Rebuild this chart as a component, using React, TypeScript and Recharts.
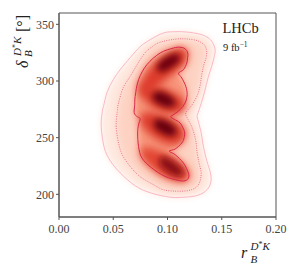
import React from 'react';
import { ScatterChart, Scatter, XAxis, YAxis, ReferenceArea, Customized } from 'recharts';

const xTicks = [0, 0.05, 0.1, 0.15, 0.2];
const yTicks = [200, 250, 300, 350];

// contour lines: [r_B, delta_B]
const outerContour: [number, number][] = [
  [0.0389, 259.9], [0.0399, 272.9], [0.041, 277.6], [0.0445, 290.6], [0.05, 301.1], [0.0564, 310.0],
  [0.0656, 320.6], [0.0748, 330.3], [0.084, 336.4], [0.0963, 342.4], [0.107, 343.5], [0.1178, 343.2],
  [0.13, 341.3], [0.1374, 338.2], [0.1416, 333.8], [0.1439, 327.6], [0.1429, 320.6], [0.1406, 312.6],
  [0.1374, 302.9], [0.1342, 290.6], [0.131, 280.0], [0.1282, 272.0], [0.1273, 268.5], [0.1287, 263.2],
  [0.131, 254.4], [0.1333, 241.2], [0.1365, 228.8], [0.1395, 219.1], [0.14, 211.1], [0.1365, 204.1],
  [0.1282, 199.2], [0.1162, 197.5], [0.1024, 197.5], [0.084, 201.4], [0.0702, 207.6], [0.0564, 218.9],
  [0.0472, 229.7], [0.0417, 241.2],
];

const middleContour: [number, number][] = [
  [0.0527, 259.9], [0.0537, 272.9], [0.0549, 280.6], [0.0592, 294.1], [0.0656, 304.1], [0.0779, 323.2],
  [0.0859, 330.3], [0.0932, 334.2], [0.107, 336.9], [0.1178, 337.1], [0.1273, 335.6], [0.1337, 332.0],
  [0.136, 326.7], [0.1356, 320.6], [0.1333, 313.5], [0.1314, 304.7], [0.13, 295.9], [0.1273, 287.0],
  [0.1227, 279.1], [0.1181, 273.8], [0.1167, 270.7], [0.119, 265.9], [0.1227, 258.8], [0.1259, 248.2],
  [0.1272, 237.6], [0.129, 227.9], [0.131, 219.1], [0.1298, 211.1], [0.126, 205.8], [0.1181, 203.2],
  [0.107, 202.8], [0.096, 204.1], [0.0871, 208.5], [0.0748, 215.6], [0.0656, 224.6], [0.0583, 235.0],
  [0.0549, 245.3],
];

const innerContour: [number, number][] = [
  [0.0693, 272.0], [0.0698, 279.1], [0.0702, 286.4], [0.0733, 301.1], [0.081, 314.4], [0.0932, 324.7],
  [0.1055, 329.1], [0.1116, 329.8], [0.1162, 328.5], [0.1187, 324.7], [0.1185, 320.6], [0.1178, 315.9],
  [0.1147, 310.0], [0.1101, 306.9], [0.1132, 302.6], [0.1169, 295.2], [0.1181, 287.9], [0.1162, 280.6],
  [0.1116, 274.7], [0.1061, 270.7], [0.1029, 268.5], [0.1061, 266.3], [0.1116, 262.9], [0.1156, 255.5],
  [0.1153, 250.0], [0.1132, 245.3], [0.107, 240.0], [0.1015, 238.1], [0.107, 235.0], [0.1147, 227.6],
  [0.1193, 218.8], [0.1193, 214.4], [0.1162, 212.0], [0.1101, 212.3], [0.0978, 215.8], [0.0856, 223.2],
  [0.0764, 232.1], [0.0733, 242.3], [0.0725, 254.1], [0.0733, 261.4], [0.0748, 266.7], [0.0716, 268.9],
];

// high-density regions (lobes) and their cores
const lobe1: [number, number][] = [
  [0.0767, 292.3], [0.0803, 302.9], [0.0886, 313.5], [0.0997, 321.4], [0.1107, 326.7], [0.1162, 325.0],
  [0.1144, 317.9], [0.1061, 310.0], [0.096, 302.0], [0.0859, 294.1], [0.0803, 289.7],
];
const lobe2: [number, number][] = [
  [0.0776, 294.1], [0.0859, 294.1], [0.0969, 291.4], [0.108, 286.1], [0.1144, 280.0], [0.1116, 273.8],
  [0.1024, 272.9], [0.0914, 276.4], [0.0822, 282.6], [0.0776, 288.8],
];
const lobe3: [number, number][] = [
  [0.0767, 268.5], [0.084, 270.3], [0.0951, 267.6], [0.1061, 262.3], [0.1135, 256.1], [0.1126, 249.1],
  [0.1061, 245.6], [0.0951, 248.2], [0.085, 254.4], [0.0785, 261.4],
];
const lobe4: [number, number][] = [
  [0.0776, 239.4], [0.0859, 238.5], [0.0978, 233.2], [0.1098, 226.2], [0.1172, 219.1], [0.1162, 213.8],
  [0.108, 213.8], [0.096, 218.2], [0.0859, 225.3], [0.0794, 232.3],
];
const core1: [number, number][] = [
  [0.0914, 311.7], [0.096, 317.9], [0.1043, 322.3], [0.1098, 322.3], [0.1089, 317.0], [0.1024, 312.6], [0.0951, 309.1],
];
const core2: [number, number][] = [
  [0.0886, 288.8], [0.096, 288.8], [0.1033, 284.4], [0.1061, 280.0], [0.1006, 278.2], [0.0923, 280.9], [0.0877, 284.4],
];
const core3: [number, number][] = [
  [0.0895, 265.0], [0.0969, 264.1], [0.1043, 259.7], [0.107, 254.4], [0.1024, 252.6], [0.0951, 255.3], [0.0895, 259.7],
];
const core4: [number, number][] = [
  [0.0951, 232.3], [0.1024, 229.7], [0.1107, 223.5], [0.1135, 218.2], [0.108, 217.3], [0.0997, 221.7], [0.0941, 227.0],
];

const toData = (c: [number, number][]) => c.map(([r, d]) => ({ r, d }));

function closedPath(pts: { x: number; y: number }[]) {
  const n = pts.length;
  if (!n) return '';
  let d = `M${pts[0].x},${pts[0].y}`;
  for (let i = 0; i < n; i++) {
    const p0 = pts[(i - 1 + n) % n];
    const p1 = pts[i];
    const p2 = pts[(i + 1) % n];
    const p3 = pts[(i + 2) % n];
    const c1x = p1.x + (p2.x - p0.x) / 6;
    const c1y = p1.y + (p2.y - p0.y) / 6;
    const c2x = p2.x - (p3.x - p1.x) / 6;
    const c2y = p2.y - (p3.y - p1.y) / 6;
    d += `C${c1x},${c1y} ${c2x},${c2y} ${p2.x},${p2.y}`;
  }
  return d + 'Z';
}

const makeFill = (fill: string, blur: number, id: string, opacity = 1, grow = 0) => (props: any) => {
  const pts = props.points || [];
  return (
    <g>
      <defs>
        <filter id={id} x="-50%" y="-50%" width="200%" height="200%">
          <feGaussianBlur stdDeviation={blur} />
        </filter>
      </defs>
      <path
        d={closedPath(pts)}
        fill={fill}
        fillOpacity={opacity}
        stroke={grow > 0 ? fill : 'none'}
        strokeWidth={grow}
        strokeLinejoin="round"
        filter={`url(#${id})`}
      />
    </g>
  );
};

const makeStroke = (stroke: string, width: number, dash?: string) => (props: any) => (
  <path d={closedPath(props.points || [])} fill="none" stroke={stroke} strokeWidth={width} strokeDasharray={dash} />
);

const noShape = () => <g />;

const fillLayers = [
  { key: 'f-outer', data: outerContour, fill: '#fee9e0', blur: 3, grow: 0 },
  { key: 'f-middle', data: middleContour, fill: '#fdd2c2', blur: 4, grow: 0 },
  { key: 'f-inner', data: innerContour, fill: '#f8977d', blur: 3, grow: 0 },
  { key: 'f-l1', data: lobe1, fill: '#dd3a2a', blur: 4, grow: 5 },
  { key: 'f-l2', data: lobe2, fill: '#dd3a2a', blur: 4, grow: 5 },
  { key: 'f-l3', data: lobe3, fill: '#dd3a2a', blur: 4, grow: 5 },
  { key: 'f-l4', data: lobe4, fill: '#e24530', blur: 4, grow: 5 },
  { key: 'f-c1', data: core1, fill: '#70000c', blur: 3, grow: 3 },
  { key: 'f-c2', data: core2, fill: '#67000d', blur: 3, grow: 3 },
  { key: 'f-c3', data: core3, fill: '#67000d', blur: 3, grow: 3 },
  { key: 'f-c4', data: core4, fill: '#8a0812', blur: 3, grow: 3 },
];

const serif = "'Liberation Serif', 'Times New Roman', serif";

const Texts = () => (
  <g fontFamily={serif} fill="#222">
    <text x={222.5} y={33} fontSize={14.5}>LHCb</text>
    <text x={223} y={51} fontSize={10.5}>
      9 fb
      <tspan fontSize={7.5} dy={-4.5}>−1</tspan>
    </text>
    {/* x label */}
    <text x={241} y={257.5} fontSize={16} fontStyle="italic">r</text>
    <text x={250.5} y={250} fontSize={11}>
      <tspan fontStyle="italic">D</tspan>
      <tspan fontSize={8} dy={-3}>*</tspan>
      <tspan fontStyle="italic" dy={3}>K</tspan>
    </text>
    <text x={250.5} y={262.5} fontSize={11} fontStyle="italic">B</text>
    {/* y label */}
    <g transform="translate(28,68) rotate(-90)">
      <text x={0} y={0} fontSize={16} fontStyle="italic">δ</text>
      <text x={12} y={-7.5} fontSize={11}>
        <tspan fontStyle="italic">D</tspan>
        <tspan fontSize={8} dy={-3}>*</tspan>
        <tspan fontStyle="italic" dy={3}>K</tspan>
      </text>
      <text x={11} y={4} fontSize={11} fontStyle="italic">B</text>
      <text x={36} y={0} fontSize={16}>[°]</text>
    </g>
  </g>
);

export default function App() {
  return (
    <div style={{ position: 'absolute', left: 0, top: 0, background: '#fff' }}>
      <ScatterChart width={291} height={272} margin={{ top: 13, right: 15, bottom: 0, left: 0 }}>
        <XAxis
          type="number"
          dataKey="r"
          domain={[0, 0.2]}
          ticks={xTicks}
          interval={0}
          height={55}
          tickFormatter={(v: number) => v.toFixed(2)}
          tick={{ fill: '#444', fontSize: 12, fontFamily: serif }}
          tickLine={{ stroke: '#555' }}
          axisLine={{ stroke: '#555' }}
          tickSize={3}
          tickMargin={4}
          allowDataOverflow
        />
        <YAxis
          type="number"
          dataKey="d"
          domain={[180, 360]}
          ticks={yTicks}
          interval={0}
          width={59}
          tick={{ fill: '#444', fontSize: 12, fontFamily: serif }}
          tickLine={{ stroke: '#555' }}
          axisLine={{ stroke: '#555' }}
          tickSize={3}
          tickMargin={2}
          allowDataOverflow
        />
        {fillLayers.map((l) => (
          <Scatter
            key={l.key}
            data={toData(l.data)}
            shape={noShape}
            line={makeFill(l.fill, l.blur, l.key, 1, l.grow)}
            isAnimationActive={false}
            legendType="none"
          />
        ))}
        <Scatter data={toData(outerContour)} shape={noShape} line={makeStroke('#f9b8c6', 1)} isAnimationActive={false} legendType="none" />
        <Scatter data={toData(middleContour)} shape={noShape} line={makeStroke('#e65a7c', 0.9, '0.9 1.4')} isAnimationActive={false} legendType="none" />
        <Scatter data={toData(innerContour)} shape={noShape} line={makeStroke('#d8264a', 1)} isAnimationActive={false} legendType="none" />
        <ReferenceArea x1={0} x2={0.2} y1={180} y2={360} fill="none" stroke="#555" strokeWidth={1} ifOverflow="visible" />
        <Customized component={<Texts />} />
      </ScatterChart>
    </div>
  );
}
